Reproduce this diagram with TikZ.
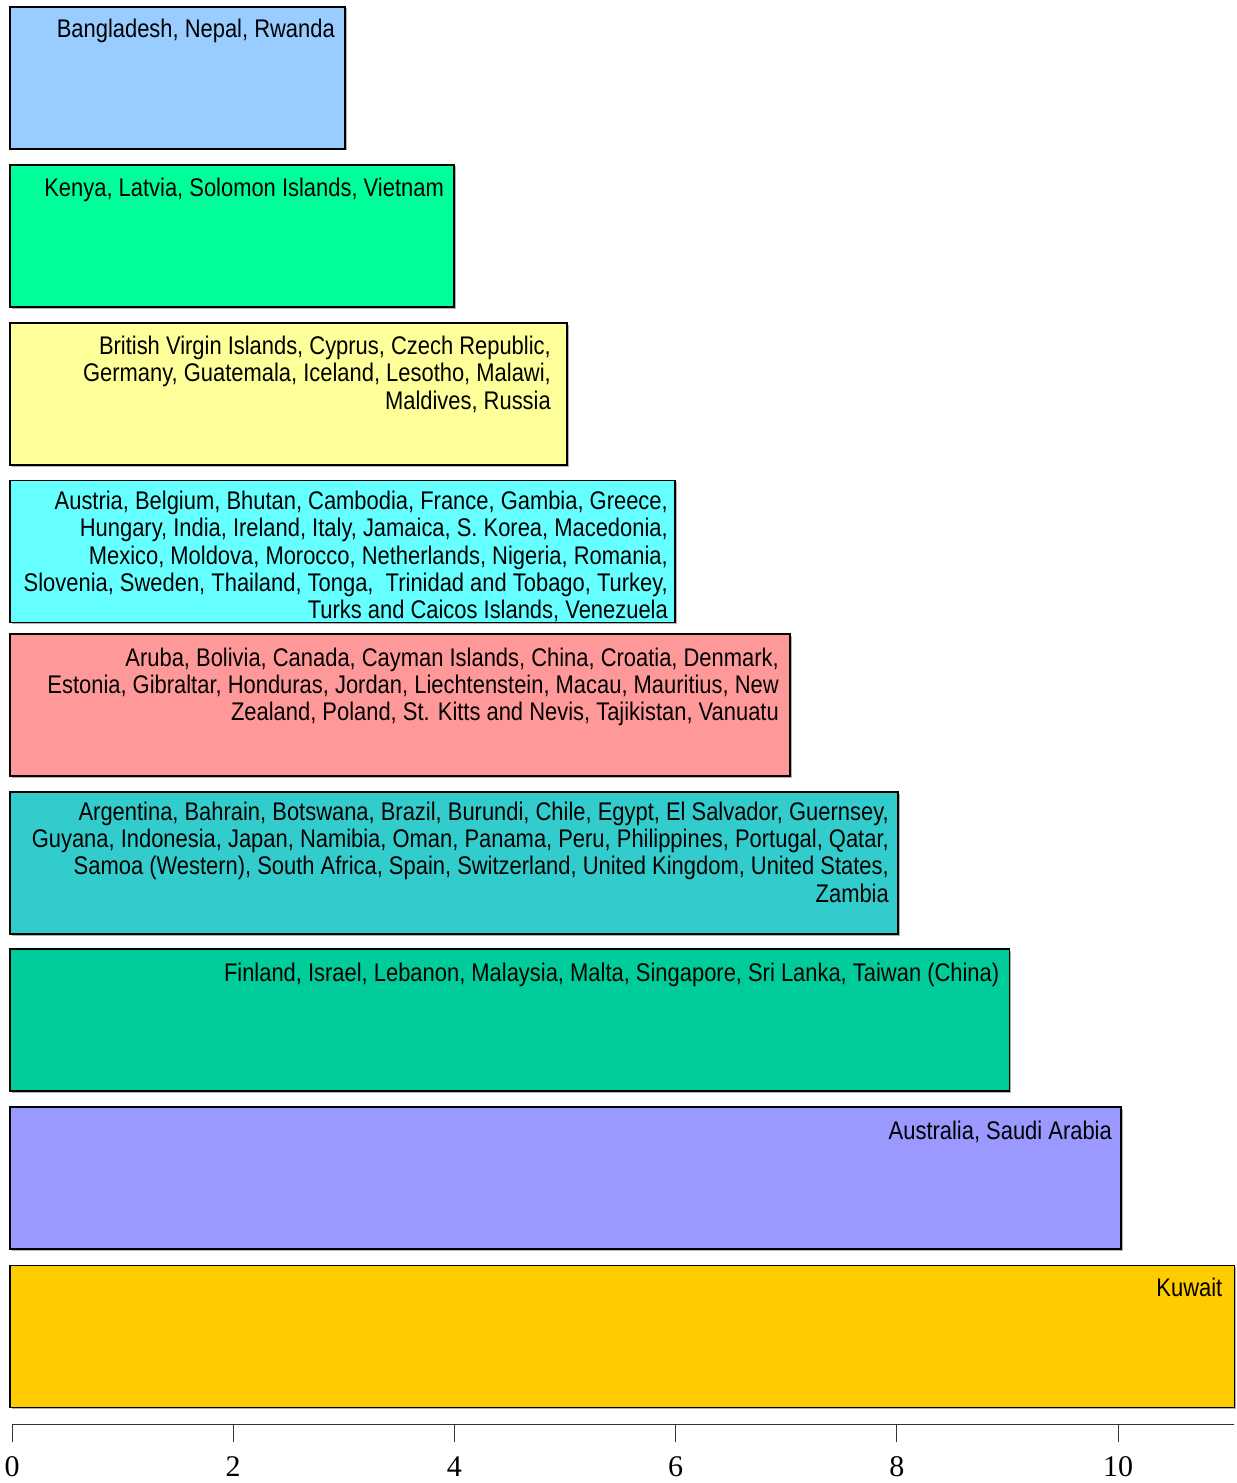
\documentclass[tikz,border=0pt]{standalone}
\usepackage{fontspec}
\newfontfamily\barfont[FakeStretch=0.86]{Liberation Sans}
\newfontfamily\axisfont{Liberation Serif}
\usetikzlibrary{calc}
\definecolor{c1}{HTML}{99CCFF}
\definecolor{c2}{HTML}{00FF99}
\definecolor{c3}{HTML}{FFFF99}
\definecolor{c4}{HTML}{66FFFF}
\definecolor{c5}{HTML}{FF9999}
\definecolor{c6}{HTML}{33CCCC}
\definecolor{c7}{HTML}{00CC99}
\definecolor{c8}{HTML}{9999FF}
\definecolor{c9}{HTML}{FFCC00}
\tikzset{
  barbox/.style={draw=black, line width=1.6bp, anchor=north west, minimum height=142bp, inner sep=0pt, outer sep=0pt},
  lbl/.style={anchor=north east, inner sep=0pt, align=right, font=\barfont\fontsize{25.5bp}{27.3bp}\selectfont},
  axlbl/.style={anchor=base, inner sep=0pt, font=\axisfont\fontsize{30bp}{30bp}\selectfont},
}
\begin{document}
\begin{tikzpicture}[x=1bp,y=-1bp]
\useasboundingbox (0,0) rectangle (1236,1483);
% bars: left edge 10, given right edge
\newcommand{\mybar}[4]{% name, top, right edge, color
  \fill[gray!60] (11.5,#2+1.5) rectangle ({#3+1.5}, #2+143.5);
  \node[barbox, fill=#4, minimum width={(#3-10)*1bp}] (#1) at (10,#2) {};
}
\mybar{b1}{7}{345}{c1}
\mybar{b2}{165}{454}{c2}
\mybar{b3}{323}{567}{c3}
\mybar{b4}{480.5}{675}{c4}
\mybar{b5}{634}{790}{c5}
\mybar{b6}{792}{898}{c6}
\mybar{b7}{949}{1009.5}{c7}
\mybar{b8}{1107}{1121}{c8}
\mybar{b9}{1265.5}{1234.5}{c9}

\node[lbl] (t1) at ($(b1.north east)+(-10,12)$) {Bangladesh, Nepal, Rwanda};
\node[lbl] (t2) at ($(b2.north east)+(-10,12.5)$) {Kenya, Latvia, Solomon Islands, Vietnam};
\node[lbl] (t3) at ($(b3.north east)+(-16,13)$) {British Virgin Islands, Cyprus, Czech Republic,\\Germany, Guatemala, Iceland, Lesotho, Malawi,\\Maldives, Russia};
\node[lbl] (t4) at ($(b4.north east)+(-7,10.5)$) {Austria, Belgium, Bhutan, Cambodia, France, Gambia, Greece,\\Hungary, India, Ireland, Italy, Jamaica, S. Korea, Macedonia,\\Mexico, Moldova, Morocco, Netherlands, Nigeria, Romania,\\Slovenia, Sweden, Thailand, Tonga,~ Trinidad and Tobago, Turkey,\\Turks and Caicos Islands, Venezuela};
\node[lbl] (t5) at ($(b5.north east)+(-11,13.5)$) {Aruba, Bolivia, Canada, Cayman Islands, China, Croatia, Denmark,\\Estonia, Gibraltar, Honduras, Jordan, Liechtenstein, Macau, Mauritius, New\\Zealand, Poland, St. Kitts and Nevis, Tajikistan, Vanuatu};
\node[lbl] (t6) at ($(b6.north east)+(-9,9.5)$) {Argentina, Bahrain, Botswana, Brazil, Burundi, Chile, Egypt, El Salvador, Guernsey,\\Guyana, Indonesia, Japan, Namibia, Oman, Panama, Peru, Philippines, Portugal, Qatar,\\Samoa (Western), South Africa, Spain, Switzerland, United Kingdom, United States,\\Zambia};
\node[lbl] (t7) at ($(b7.north east)+(-10,13.5)$) {Finland, Israel, Lebanon, Malaysia, Malta, Singapore, Sri Lanka, Taiwan (China)};
\node[lbl] (t8) at ($(b8.north east)+(-9,13.5)$) {Australia, Saudi Arabia};
\node[lbl] (t9) at ($(b9.north east)+(-12,12.5)$) {Kuwait};

% axis
\coordinate (a0) at (12,1424);
\coordinate (a1) at (1234,1424);
\draw[line width=1bp, black!80] (a0) -- (a1);
\foreach \v in {0,2,4,6,8,10}{
  \draw[line width=1bp, black!80] ({12+\v*110.6},1424) -- ({12+\v*110.6},1442);
  \node[axlbl] (ax\v) at ({12+\v*110.6},1476) {\v};
}
\end{tikzpicture}
\end{document}
